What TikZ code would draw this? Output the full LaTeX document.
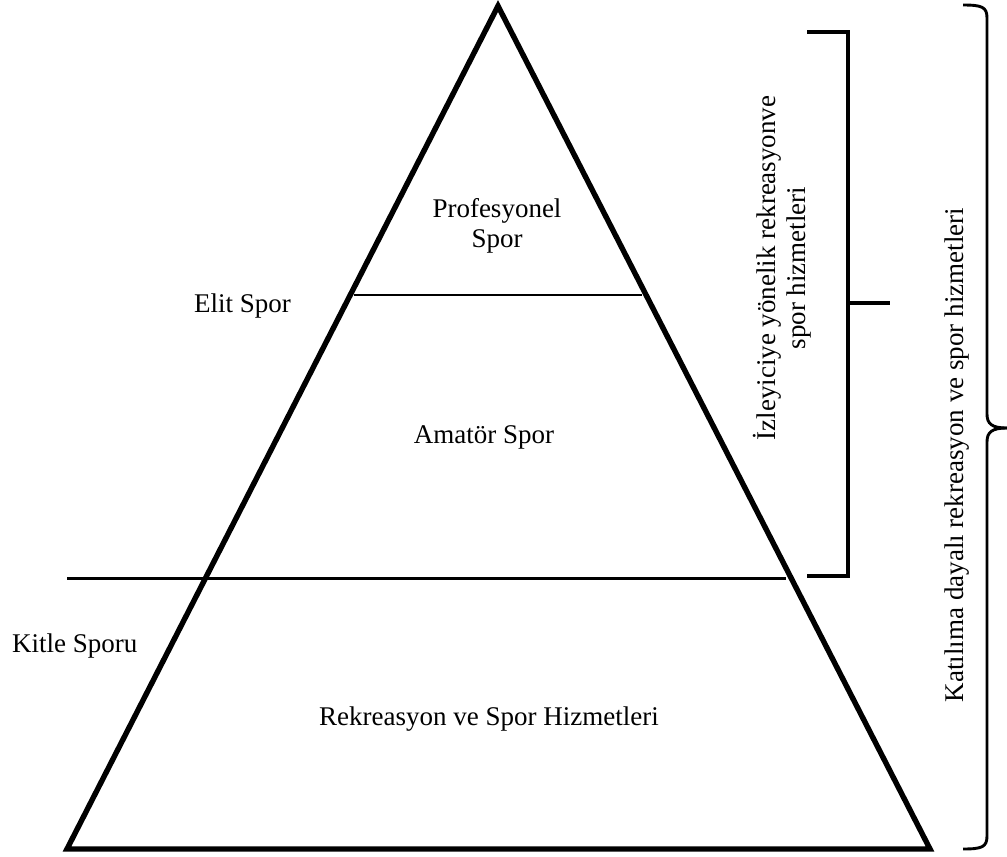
\documentclass[tikz,border=0pt]{standalone}
\usepackage{fontspec}
\setmainfont{Liberation Serif}
\begin{document}
\begin{tikzpicture}[x=1pt,y=-1pt,
  lbl/.style={inner sep=0pt, font=\fontsize{27}{30}\selectfont, align=center},
  pyramid/.style={line width=5.4pt, line join=miter},
  divider/.style={line width=2.5pt},
  bracketline/.style={line width=3.2pt},
  braceline/.style={line width=2.9pt}]
\useasboundingbox (0,0) rectangle (1007,857);

% pyramid corners
\coordinate (apex) at (498,6);
\coordinate (bl) at (67,849);
\coordinate (br) at (930,849);
\draw[pyramid] (apex) -- (bl) -- (br) -- cycle;

% levels
\coordinate (d1l) at (354,295);
\coordinate (d1r) at (642,295);
\draw[divider] (d1l) -- (d1r);
\coordinate (d2l) at (67,578);
\coordinate (d2r) at (786,578);
\draw[divider, line width=3pt] (d2l) -- (d2r);

% inner labels
\node[lbl] (pro) at (497,226) {Profesyonel\\Spor};
\node[lbl, anchor=west] (elit) at (194,306) {Elit Spor};
\node[lbl] (amator) at (484,437) {Amatör Spor};
\node[lbl, anchor=west] (kitle) at (12,646) {Kitle Sporu};
\node[lbl] (rek) at (489,719) {Rekreasyon ve Spor Hizmetleri};

% spectator bracket
\coordinate (b1) at (807,32);
\coordinate (b2) at (848,32);
\coordinate (b3) at (848,576);
\coordinate (b4) at (807,576);
\coordinate (bm) at (848,303);
\coordinate (bt) at (890,303);
\draw[bracketline, line join=miter] (b1) -- (b2) -- (b3) -- (b4);
\draw[bracketline] (bm) -- (bt);
\node[lbl, rotate=90] (izle) at (782,268) {İzleyiciye yönelik rekreasyonve\\spor hizmetleri};

% participation brace
\coordinate (ct) at (963,5);
\coordinate (cb) at (963,849);
\coordinate (cm) at (1007,428);
\draw[braceline] (ct) .. controls (982,5) and (987,7) .. (987,18)
  -- (987,414) .. controls (987,424) and (992,428) .. (cm);
\draw[braceline] (cb) .. controls (982,849) and (987,847) .. (987,836)
  -- (987,442) .. controls (987,432) and (992,428) .. (cm);
\node[lbl, rotate=90] (kat) at (957,455) {Katılıma dayalı rekreasyon ve spor hizmetleri};
\end{tikzpicture}
\end{document}
